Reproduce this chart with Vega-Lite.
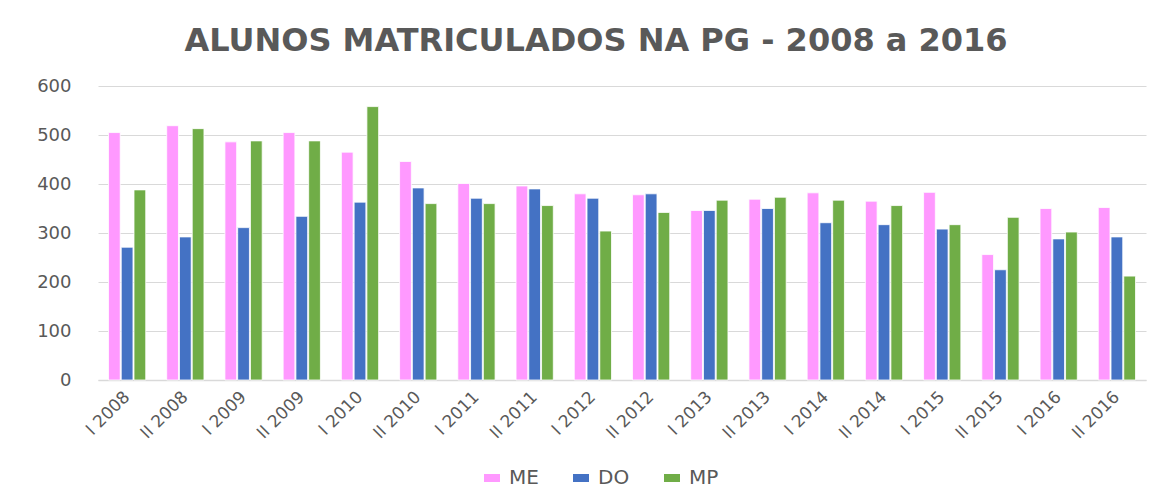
{
  "$schema": "https://vega.github.io/schema/vega-lite/v6.json",
  "width": 1048,
  "height": 294,
  "autosize": {"type": "none"},
  "padding": {"left": 98, "top": 86, "right": 26, "bottom": 121},
  "background": "white",
  "title": {
    "text": "ALUNOS MATRICULADOS NA PG - 2008 a 2016",
    "font": "DejaVu Sans",
    "fontSize": 32,
    "fontWeight": "bold",
    "color": "#595959",
    "anchor": "middle",
    "offset": 19,
    "dx": -26
  },
  "data": {
    "values": [
      {"p": "I 2008", "s": "ME", "v": 505}, {"p": "I 2008", "s": "DO", "v": 271}, {"p": "I 2008", "s": "MP", "v": 388},
      {"p": "II 2008", "s": "ME", "v": 519}, {"p": "II 2008", "s": "DO", "v": 292}, {"p": "II 2008", "s": "MP", "v": 513},
      {"p": "I 2009", "s": "ME", "v": 486}, {"p": "I 2009", "s": "DO", "v": 311}, {"p": "I 2009", "s": "MP", "v": 488},
      {"p": "II 2009", "s": "ME", "v": 505}, {"p": "II 2009", "s": "DO", "v": 334}, {"p": "II 2009", "s": "MP", "v": 488},
      {"p": "I 2010", "s": "ME", "v": 465}, {"p": "I 2010", "s": "DO", "v": 363}, {"p": "I 2010", "s": "MP", "v": 558},
      {"p": "II 2010", "s": "ME", "v": 446}, {"p": "II 2010", "s": "DO", "v": 392}, {"p": "II 2010", "s": "MP", "v": 360},
      {"p": "I 2011", "s": "ME", "v": 401}, {"p": "I 2011", "s": "DO", "v": 371}, {"p": "I 2011", "s": "MP", "v": 360},
      {"p": "II 2011", "s": "ME", "v": 396}, {"p": "II 2011", "s": "DO", "v": 390}, {"p": "II 2011", "s": "MP", "v": 356},
      {"p": "I 2012", "s": "ME", "v": 380}, {"p": "I 2012", "s": "DO", "v": 371}, {"p": "I 2012", "s": "MP", "v": 304},
      {"p": "II 2012", "s": "ME", "v": 378}, {"p": "II 2012", "s": "DO", "v": 380}, {"p": "II 2012", "s": "MP", "v": 342},
      {"p": "I 2013", "s": "ME", "v": 346}, {"p": "I 2013", "s": "DO", "v": 346}, {"p": "I 2013", "s": "MP", "v": 367},
      {"p": "II 2013", "s": "ME", "v": 369}, {"p": "II 2013", "s": "DO", "v": 350}, {"p": "II 2013", "s": "MP", "v": 373},
      {"p": "I 2014", "s": "ME", "v": 382}, {"p": "I 2014", "s": "DO", "v": 321}, {"p": "I 2014", "s": "MP", "v": 367},
      {"p": "II 2014", "s": "ME", "v": 365}, {"p": "II 2014", "s": "DO", "v": 317}, {"p": "II 2014", "s": "MP", "v": 356},
      {"p": "I 2015", "s": "ME", "v": 383}, {"p": "I 2015", "s": "DO", "v": 308}, {"p": "I 2015", "s": "MP", "v": 317},
      {"p": "II 2015", "s": "ME", "v": 256}, {"p": "II 2015", "s": "DO", "v": 225}, {"p": "II 2015", "s": "MP", "v": 332},
      {"p": "I 2016", "s": "ME", "v": 350}, {"p": "I 2016", "s": "DO", "v": 288}, {"p": "I 2016", "s": "MP", "v": 302},
      {"p": "II 2016", "s": "ME", "v": 352}, {"p": "II 2016", "s": "DO", "v": 292}, {"p": "II 2016", "s": "MP", "v": 212}
    ]
  },
  "mark": {"type": "bar", "stroke": "white", "strokeWidth": 0.8},
  "encoding": {
    "x": {
      "field": "p",
      "type": "nominal",
      "sort": null,
      "title": null,
      "scale": {"paddingInner": 0.36, "paddingOuter": 0.18},
      "axis": {
        "labelAngle": -45,
        "labelAlign": "right",
        "labelBaseline": "middle",
        "labelFont": "DejaVu Sans",
        "labelFontSize": 17,
        "labelColor": "#595959",
        "labelPadding": 14,
        "ticks": false,
        "domainColor": "#D9D9D9",
        "domainWidth": 1.5,
        "grid": false
      }
    },
    "xOffset": {"field": "s", "type": "nominal", "sort": ["ME", "DO", "MP"], "scale": {"paddingInner": 0.08}},
    "y": {
      "field": "v",
      "type": "quantitative",
      "title": null,
      "scale": {"domain": [0, 600]},
      "axis": {
        "values": [0, 100, 200, 300, 400, 500, 600],
        "labelFont": "DejaVu Sans",
        "labelFontSize": 18,
        "labelColor": "#595959",
        "labelPadding": 27,
        "ticks": false,
        "domain": false,
        "gridColor": "#D9D9D9",
        "gridWidth": 1.2
      }
    },
    "color": {
      "field": "s",
      "type": "nominal",
      "sort": ["ME", "DO", "MP"],
      "scale": {"domain": ["ME", "DO", "MP"], "range": ["#FF99FF", "#4472C4", "#70AD47"]},
      "legend": {
        "title": null,
        "orient": "none",
        "legendX": 384,
        "legendY": 382,
        "direction": "horizontal",
        "symbolType": "M-1,-0.5H1V0.5H-1Z",
        "symbolSize": 256,
        "symbolStrokeWidth": 0,
        "labelFont": "DejaVu Sans",
        "labelFontSize": 20,
        "labelColor": "#595959",
        "labelOffset": 7,
        "columnPadding": 32
      }
    }
  },
  "config": {"view": {"stroke": null}}
}
